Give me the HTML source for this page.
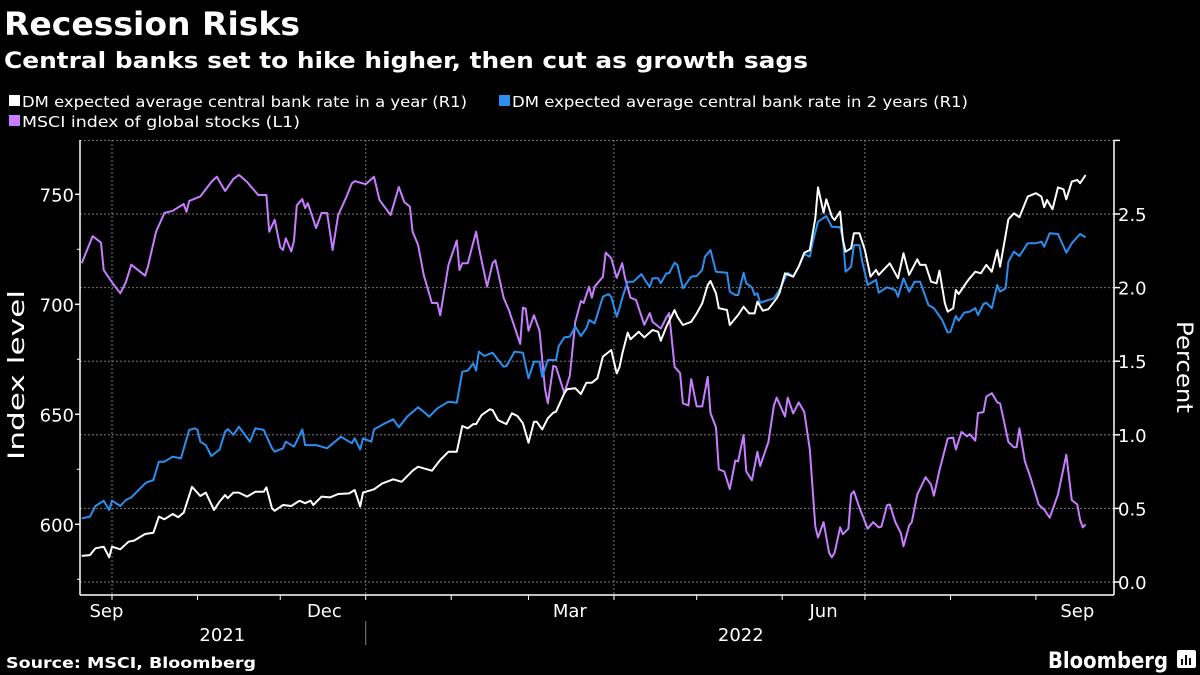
<!DOCTYPE html>
<html><head><meta charset="utf-8"><style>
html,body{margin:0;padding:0;background:#000;}
svg{display:block;font-family:"DejaVu Sans","Liberation Sans",sans-serif;}
</style></head><body>
<svg id="chart" width="1200" height="675" viewBox="0 0 1200 675">
<rect width="1200" height="675" fill="#000"/>
<text x="4" y="35" fill="#fff" font-size="32" font-weight="bold" textLength="296" lengthAdjust="spacingAndGlyphs">Recession Risks</text>
<text x="4" y="68" fill="#fff" font-size="22" font-weight="bold" textLength="804" lengthAdjust="spacingAndGlyphs">Central banks set to hike higher, then cut as growth sags</text>
<g font-size="15" fill="#fff">
<g><rect x="9" y="95" width="11" height="11" fill="#fff"/><text x="22" y="107" textLength="445" lengthAdjust="spacingAndGlyphs">DM expected average central bank rate in a year (R1)</text></g>
<g><rect x="499" y="95" width="11" height="11" fill="#2b8ff0"/><text x="512" y="107" textLength="456" lengthAdjust="spacingAndGlyphs">DM expected average central bank rate in 2 years (R1)</text></g>
<g><rect x="9" y="115" width="11" height="11" fill="#c77dff"/><text x="22" y="127" textLength="278" lengthAdjust="spacingAndGlyphs">MSCI index of global stocks (L1)</text></g>
</g>
<g id="grid"></g>
<g id="axes"></g>
<g id="series"></g>
<text transform="translate(24,375) rotate(-90)" text-anchor="middle" fill="#fff" font-size="22" textLength="170" lengthAdjust="spacingAndGlyphs">Index level</text>
<text transform="translate(1177,367) rotate(90)" text-anchor="middle" fill="#fff" font-size="22" textLength="92" lengthAdjust="spacingAndGlyphs">Percent</text>
<text x="6" y="668" fill="#fff" font-size="15" font-weight="bold" textLength="250" lengthAdjust="spacingAndGlyphs">Source: MSCI, Bloomberg</text>
<text x="1048" y="668" fill="#fff" font-size="22" font-weight="bold" textLength="120" lengthAdjust="spacingAndGlyphs">Bloomberg</text>
<g><rect x="1177" y="650" width="19" height="18" rx="2" fill="#fff"/><rect x="1181" y="659" width="2" height="6" fill="#000"/><rect x="1185" y="655" width="2" height="10" fill="#000"/><rect x="1189" y="658" width="2" height="7" fill="#000"/></g>
</svg>
<script>
const NS="http://www.w3.org/2000/svg";
// days since 2021-10-01
const msciDays=[-11,-7,-4,-3,0,3,5,7,12,13,16,19,22,26,27,28,32,36,38,41,44,46,49,53,56,57,59,61,62,63,65,66,67,69,70,71,74,76,78,80,82,85,87,88,92,95,97,101,104,106,108,109,111,113,116,118,119,122,125,126,127,129,132,133,136,138,139,142,144,148,149,150,151,153,155,157,158,160,161,164,166,168,170,171,173,174,175,178,179,181,183,185,186,188,190,193,195,196,199,201,202,204,206,207,209,210,212,214,216,217,219,220,222,224,226,227,229,230,232,234,235,238,240,241,244,245,247,249,251,253,255,256,258,260,261,262,264,265,267,268,269,271,272,274,276,278,279,281,282,284,286,287,289,290,292,295,297,298,300,303,305,306,308,310,311,313,314,316,317,319,321,322,325,327,328,329,331,333,336,338,340,343,346,348,350,351,352,353];
const msciValues=[718.7,731,728,715.6,710,705,710,718,713,717,733,741.5,742.5,745.6,742,747,749,755.6,758,751.5,757,758.8,755.6,749.7,749.7,733,738.4,726,724.7,730,724,729,745,747.8,743.7,746,734.7,741.5,741.5,724.7,740.6,748.8,755,756,754.6,758,747.4,740.6,753.3,746.5,744.3,733,727,713.4,700.6,700.6,695,718,729,715.6,718.7,718.7,733,726,708,718.7,720,703,697,682,698.5,698,688,695,688,661.6,655,672,671.6,659.6,667.5,692,701.5,700.6,708,703,708,712.5,723.5,721,712,718.7,712,703,702,690.7,696,692,689,694,696,671.6,668.7,655,654,666,653.6,653.6,667,650.6,644,625,624,616,629,628.6,640.6,624,620,633,626.5,637.4,654,657.6,649,657.6,650.4,655.4,651,634,599,594,601,587,585,587,598.6,595.5,598,613.6,615,607.6,604.4,598,601,598.6,599,608.7,609,601,596,590,599.4,601,613.6,621.4,618,613,624.4,639,639.4,634,642,640,641,638,650.6,651,658,659.6,655.4,655,637.4,635,635,643.6,628.6,621.4,609,606.7,603,613.6,631.6,611,609,602,598.6,600];
const rate2yDays=[-11,-8,-6,-3,-1,0,3,5,7,12,13,15,17,19,22,25,28,30,31,32,34,36,39,41,42,44,46,48,50,52,55,58,59,62,63,66,69,70,74,78,83,87,88,90,91,94,95,99,102,104,107,111,113,115,118,122,125,127,129,131,132,133,135,138,140,142,143,146,149,151,153,155,156,158,161,162,164,166,168,170,172,173,175,178,180,181,183,184,185,187,189,192,194,195,196,198,199,201,202,204,205,207,210,212,214,215,217,219,223,224,226,227,229,230,232,233,234,235,238,240,242,245,247,249,251,253,254,256,259,261,264,265,266,268,269,271,272,274,277,278,281,284,285,287,289,291,293,296,298,301,303,304,306,307,309,311,313,314,316,317,319,321,322,324,325,327,329,332,335,337,338,340,343,346,348,351,353];
const rate2yValues=[0.433,0.444,0.516,0.552,0.489,0.552,0.516,0.557,0.575,0.67,0.68,0.693,0.817,0.817,0.851,0.84,1.033,1.044,1.033,0.953,0.93,0.856,0.90,1.021,1.039,0.999,1.055,1.005,0.953,1.044,1.033,0.908,0.885,0.908,0.953,0.919,1.037,0.93,0.93,0.908,0.987,0.942,0.976,0.90,0.976,0.953,1.037,1.078,1.105,1.051,1.123,1.187,1.157,1.123,1.18,1.225,1.218,1.429,1.436,1.486,1.436,1.565,1.535,1.558,1.508,1.463,1.467,1.565,1.558,1.384,1.497,1.497,1.395,1.508,1.508,1.603,1.662,1.667,1.735,1.671,1.724,1.78,1.757,1.938,1.956,1.938,1.802,1.86,1.93,2.04,2.04,2.092,2.029,2.006,2.063,2.063,2.029,2.097,2.097,2.169,2.154,1.995,2.074,2.079,2.12,2.21,2.255,2.108,2.101,1.972,1.95,1.95,2.101,2.029,2.002,1.95,1.961,1.897,1.916,1.927,1.984,2.101,2.074,2.142,2.228,2.21,2.301,2.448,2.486,2.414,2.41,2.335,2.108,2.142,2.289,2.289,2.176,2.018,2.052,1.966,2.002,1.984,1.938,2.063,1.972,2.04,2.04,1.882,1.86,1.78,1.694,1.70,1.807,1.775,1.83,1.836,1.86,1.814,1.889,1.897,1.86,2.018,1.972,1.995,2.176,2.244,2.215,2.301,2.301,2.312,2.278,2.369,2.364,2.237,2.301,2.364,2.342];
const rate1yDays=[-11,-8,-6,-3,-1,0,3,6,8,12,15,17,19,22,24,26,29,32,34,37,39,41,42,44,46,49,52,55,56,58,59,62,65,68,70,72,73,76,79,82,86,88,90,91,95,98,102,105,109,111,116,119,122,125,127,129,131,132,134,137,138,140,143,145,147,149,151,153,154,156,158,160,161,164,165,168,170,172,174,176,178,181,183,184,185,187,188,191,193,196,198,199,201,204,205,207,210,212,214,216,217,219,220,223,224,226,227,229,231,233,234,236,238,241,242,244,247,249,251,253,255,256,258,259,261,262,264,265,266,268,269,271,273,275,277,278,282,285,287,289,292,293,295,297,299,300,302,303,305,306,307,310,311,313,315,317,319,321,322,325,327,329,332,335,337,338,339,341,343,345,346,348,350,351,353];
const rate1yValues=[0.177,0.183,0.229,0.24,0.168,0.24,0.222,0.274,0.281,0.326,0.335,0.444,0.426,0.462,0.44,0.471,0.647,0.584,0.607,0.489,0.546,0.591,0.569,0.607,0.607,0.58,0.613,0.613,0.643,0.50,0.484,0.523,0.516,0.552,0.535,0.552,0.523,0.58,0.575,0.598,0.602,0.625,0.512,0.607,0.63,0.67,0.698,0.681,0.756,0.783,0.756,0.829,0.885,0.885,1.06,1.044,1.073,1.073,1.134,1.173,1.168,1.10,1.073,1.146,1.128,1.078,0.946,1.089,1.089,1.037,1.112,1.15,1.157,1.282,1.309,1.316,1.277,1.354,1.354,1.384,1.531,1.576,1.418,1.459,1.549,1.694,1.649,1.70,1.662,1.712,1.70,1.639,1.735,1.848,1.802,1.746,1.768,1.825,1.893,2.018,2.045,1.961,1.86,1.848,1.746,1.791,1.814,1.87,1.825,1.825,1.904,1.843,1.853,1.927,1.961,2.097,2.074,2.142,2.237,2.255,2.471,2.681,2.509,2.60,2.482,2.459,2.516,2.323,2.244,2.267,2.369,2.369,2.255,2.074,2.12,2.086,2.165,2.063,2.233,2.086,2.192,2.154,2.154,2.04,2.029,2.115,1.893,1.836,1.86,1.984,1.956,2.04,2.063,2.108,2.097,2.154,2.108,2.255,2.142,2.464,2.505,2.478,2.618,2.641,2.618,2.546,2.595,2.532,2.681,2.668,2.60,2.72,2.731,2.709,2.765];
const leftTicks=[600,650,700,750];
const leftMinor=[575,625,675,725];
const rightTicks=[0,0.5,1,1.5,2,2.5,3];
const monthTickDays=[0,31,61,92,123,151,182,212,243,273,304,335];
const monthLabels=["Sep","Dec","Mar","Jun","Sep"];
const monthLabelDays=[-2,77,166,258,350];
const majorDays=[0,92,182,273];
const yearLabels=["2021","2022"];
const yearLabelDays=[40,228];
const yearSplitDay=92;

const X0=80,X1=1114,Y0=140,Y1=595;
const xS=d=>112+d*2.758;
const yL=v=>194.3+(750-v)*2.2;
const yR=v=>582-v*147.2;
function mk(tag,attrs,parent){const e=document.createElementNS(NS,tag);for(const k in attrs)e.setAttribute(k,attrs[k]);parent.appendChild(e);return e;}
const grid=document.getElementById('grid'),axes=document.getElementById('axes'),series=document.getElementById('series');
rightTicks.forEach(v=>{const y=yR(v);
 const l=mk('line',{x1:X0,x2:X1,y1:y,y2:y,stroke:'#777','stroke-width':1,'stroke-dasharray':'2,2'},grid);
 
 
 const t=mk('line',{x1:X1,x2:X1+6,y1:y,y2:y,stroke:'#fff','stroke-width':1.5},axes);
 
 
 if(v<3){const tx=mk('text',{x:X1+4,y:y+7,fill:'#fff','font-size':18},axes);tx.textContent=v.toFixed(1);
 
 }
});
majorDays.forEach(d=>{const x=xS(d);
 const l=mk('line',{x1:x,x2:x,y1:Y0,y2:Y1,stroke:'#777','stroke-width':1,'stroke-dasharray':'2,2'},grid);
 
 
});
mk('line',{x1:X0,x2:X0,y1:Y0,y2:Y1,stroke:'#fff','stroke-width':1.5},axes);
mk('line',{x1:X1,x2:X1,y1:Y0,y2:Y1,stroke:'#fff','stroke-width':1.5},axes);
mk('line',{x1:X0,x2:X1,y1:Y1,y2:Y1,stroke:'#fff','stroke-width':1.5},axes);
leftTicks.forEach(v=>{const y=yL(v);
 mk('line',{x1:X0-5,x2:X0,y1:y,y2:y,stroke:'#fff','stroke-width':1.5},axes);
 const tx=mk('text',{x:X0-6,y:y+7,fill:'#fff','font-size':18,'text-anchor':'end'},axes);tx.textContent=v;
 
 
});
leftMinor.forEach(v=>{const y=yL(v);mk('line',{x1:X0-3,x2:X0,y1:y,y2:y,stroke:'#fff','stroke-width':1},axes);});
monthTickDays.forEach(d=>{const x=xS(d);mk('line',{x1:x,x2:x,y1:Y1,y2:Y1+5,stroke:'#fff','stroke-width':1},axes);});
monthLabels.forEach((m,i)=>{const tx=mk('text',{x:xS(monthLabelDays[i]),y:617,fill:'#fff','font-size':18,'text-anchor':'middle'},axes);tx.textContent=m;
 
 });
yearLabels.forEach((m,i)=>{const tx=mk('text',{x:xS(yearLabelDays[i]),y:641,fill:'#fff','font-size':18,'text-anchor':'middle'},axes);tx.textContent=m;
 
 });
mk('line',{x1:xS(yearSplitDay),x2:xS(yearSplitDay),y1:621,y2:645,stroke:'#888','stroke-width':1},axes);
function line(days,vals,ys,color,name){
 const d=days.map((t,i)=>(i?'L':'M')+xS(t).toFixed(1)+','+ys(vals[i]).toFixed(1)).join('');
 const p=mk('path',{d:d,fill:'none',stroke:color,'stroke-width':2,'stroke-linejoin':'round'},series);
 
 
}
line(msciDays,msciValues,yL,'#c77dff','msci-line');
line(rate2yDays,rate2yValues,yR,'#2b8ff0','rate-2y-line');
line(rate1yDays,rate1yValues,yR,'#ffffff','rate-1y-line');
</script>
</body></html>
